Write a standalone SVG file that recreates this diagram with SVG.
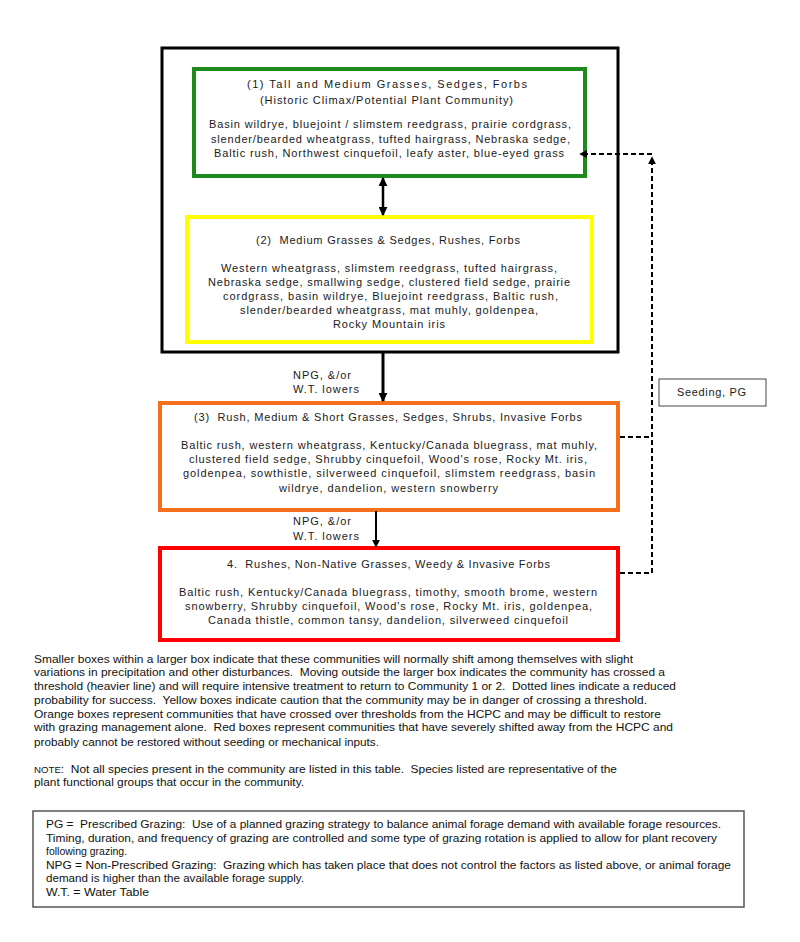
<svg xmlns="http://www.w3.org/2000/svg" width="800" height="942" viewBox="0 0 800 942">
<style>
.t{font-family:"Liberation Sans",Arial,sans-serif;font-size:11px;fill:#1a1a1a;white-space:pre}
.p{font-family:"Liberation Sans",Arial,sans-serif;font-size:10.5px;fill:#111;white-space:pre}
.box{fill:#fff;stroke-width:4}
.dash{fill:none;stroke:#000;stroke-width:2;stroke-dasharray:5 3}
.solid{fill:none;stroke:#000}
</style>
<defs>
<marker id="ah" viewBox="0 0 10 10" refX="9" refY="5" markerWidth="9" markerHeight="9" markerUnits="userSpaceOnUse" orient="auto-start-reverse">
<path d="M0,0 L10,5 L0,10 z" fill="#000"/>
</marker>
<marker id="ahs" viewBox="0 0 10 10" refX="9" refY="5" markerWidth="8" markerHeight="8" markerUnits="userSpaceOnUse" orient="auto">
<path d="M0,0 L10,5 L0,10 z" fill="#000"/>
</marker>
</defs>
<rect width="800" height="942" fill="#fff"/>

<g id="threshold-box">
<rect x="162" y="48" width="456" height="304" fill="none" stroke="#000" stroke-width="3"/>
</g>

<g id="node-1" xml:space="preserve">
<rect class="box" x="194" y="69" width="391" height="107" stroke="#1e8a1e"/>
<text class="t" x="247" y="88" textLength="280" lengthAdjust="spacing">(1) Tall and Medium Grasses, Sedges, Forbs</text>
<text class="t" x="260" y="104" textLength="253" lengthAdjust="spacing">(Historic Climax/Potential Plant Community)</text>
<text class="t" x="209" y="128" textLength="362" lengthAdjust="spacing">Basin wildrye, bluejoint / slimstem reedgrass, prairie cordgrass,</text>
<text class="t" x="211" y="143" textLength="359" lengthAdjust="spacing">slender/bearded wheatgrass, tufted hairgrass, Nebraska sedge,</text>
<text class="t" x="214" y="157" textLength="350" lengthAdjust="spacing">Baltic rush, Northwest cinquefoil, leafy aster, blue-eyed grass</text>
</g>

<g id="node-2" xml:space="preserve">
<rect class="box" x="187" y="217" width="405" height="125" stroke="#ffff00"/>
<text class="t" x="256" y="244" textLength="264" lengthAdjust="spacing">(2)  Medium Grasses &amp; Sedges, Rushes, Forbs</text>
<text class="t" x="221" y="271.5" textLength="336" lengthAdjust="spacing">Western wheatgrass, slimstem reedgrass, tufted hairgrass,</text>
<text class="t" x="208" y="285.5" textLength="362" lengthAdjust="spacing">Nebraska sedge, smallwing sedge, clustered field sedge, prairie</text>
<text class="t" x="223" y="299.5" textLength="335" lengthAdjust="spacing">cordgrass, basin wildrye, Bluejoint reedgrass, Baltic rush,</text>
<text class="t" x="240" y="313.5" textLength="298" lengthAdjust="spacing">slender/bearded wheatgrass, mat muhly, goldenpea,</text>
<text class="t" x="333" y="328" textLength="112" lengthAdjust="spacing">Rocky Mountain iris</text>
</g>

<g id="node-3" xml:space="preserve">
<rect class="box" x="160" y="403" width="458" height="107" stroke="#f5701c"/>
<text class="t" x="194" y="421" textLength="388" lengthAdjust="spacing">(3)  Rush, Medium &amp; Short Grasses, Sedges, Shrubs, Invasive Forbs</text>
<text class="t" x="181" y="449" textLength="416" lengthAdjust="spacing">Baltic rush, western wheatgrass, Kentucky/Canada bluegrass, mat muhly,</text>
<text class="t" x="189" y="463" textLength="398" lengthAdjust="spacing">clustered field sedge, Shrubby cinquefoil, Wood's rose, Rocky Mt. iris,</text>
<text class="t" x="183" y="477" textLength="412" lengthAdjust="spacing">goldenpea, sowthistle, silverweed cinquefoil, slimstem reedgrass, basin</text>
<text class="t" x="279" y="491.5" textLength="219" lengthAdjust="spacing">wildrye, dandelion, western snowberry</text>
</g>

<g id="node-4" xml:space="preserve">
<rect class="box" x="160" y="548" width="458" height="92" stroke="#ff0000"/>
<text class="t" x="227" y="568" textLength="323" lengthAdjust="spacing">4.  Rushes, Non-Native Grasses, Weedy &amp; Invasive Forbs</text>
<text class="t" x="179" y="595.5" textLength="418" lengthAdjust="spacing">Baltic rush, Kentucky/Canada bluegrass, timothy, smooth brome, western</text>
<text class="t" x="185" y="609.5" textLength="407" lengthAdjust="spacing">snowberry, Shrubby cinquefoil, Wood's rose, Rocky Mt. iris, goldenpea,</text>
<text class="t" x="208" y="624" textLength="360" lengthAdjust="spacing">Canada thistle, common tansy, dandelion, silverweed cinquefoil</text>
</g>

<g id="seeding-label">
<rect x="659" y="379" width="107" height="27" fill="#fff" stroke="#444" stroke-width="1"/>
<text class="t" x="677" y="396" textLength="69" lengthAdjust="spacing">Seeding, PG</text>
</g>

<g id="connectors">
<line class="solid" x1="383" y1="178" x2="383" y2="215" stroke-width="2.5" marker-start="url(#ah)" marker-end="url(#ah)"/>
<line class="solid" x1="383" y1="352" x2="383" y2="401" stroke-width="3" marker-end="url(#ah)"/>
<line class="solid" x1="376" y1="511" x2="376" y2="547" stroke-width="2" marker-end="url(#ahs)"/>
<path class="dash" d="M620,573 H652 V157" marker-end="url(#ahs)"/>
<path class="dash" d="M620,437 H652"/>
<path class="dash" d="M652,154 H580" marker-end="url(#ahs)"/>
<text class="t" x="293" y="379" textLength="58" lengthAdjust="spacing">NPG, &amp;/or</text>
<text class="t" x="293" y="393" textLength="66" lengthAdjust="spacing">W.T. lowers</text>
<text class="t" x="293" y="525" textLength="58" lengthAdjust="spacing">NPG, &amp;/or</text>
<text class="t" x="293" y="540" textLength="66" lengthAdjust="spacing">W.T. lowers</text>
</g>

<g id="notes" xml:space="preserve">
<text class="p" x="34" y="662.5" textLength="599" lengthAdjust="spacingAndGlyphs">Smaller boxes within a larger box indicate that these communities will normally shift among themselves with slight</text>
<text class="p" x="34" y="676" textLength="631" lengthAdjust="spacingAndGlyphs">variations in precipitation and other disturbances.  Moving outside the larger box indicates the community has crossed a</text>
<text class="p" x="34" y="690" textLength="642" lengthAdjust="spacingAndGlyphs">threshold (heavier line) and will require intensive treatment to return to Community 1 or 2.  Dotted lines indicate a reduced</text>
<text class="p" x="34" y="704" textLength="613" lengthAdjust="spacingAndGlyphs">probability for success.  Yellow boxes indicate caution that the community may be in danger of crossing a threshold.</text>
<text class="p" x="34" y="717.5" textLength="627" lengthAdjust="spacingAndGlyphs">Orange boxes represent communities that have crossed over thresholds from the HCPC and may be difficult to restore</text>
<text class="p" x="34" y="731" textLength="639" lengthAdjust="spacingAndGlyphs">with grazing management alone.  Red boxes represent communities that have severely shifted away from the HCPC and</text>
<text class="p" x="34" y="745.5" textLength="345" lengthAdjust="spacingAndGlyphs">probably cannot be restored without seeding or mechanical inputs.</text>
<text class="p" x="34" y="772.5" textLength="583" lengthAdjust="spacingAndGlyphs"><tspan font-size="8.5">NOTE</tspan>:  Not all species present in the community are listed in this table.  Species listed are representative of the</text>
<text class="p" x="34" y="786" textLength="270" lengthAdjust="spacingAndGlyphs">plant functional groups that occur in the community.</text>
</g>

<g id="legend" xml:space="preserve">
<rect x="33" y="811" width="711" height="96" fill="#fff" stroke="#555" stroke-width="1.5"/>
<text class="p" x="46" y="828" textLength="675" lengthAdjust="spacingAndGlyphs">PG =  Prescribed Grazing:  Use of a planned grazing strategy to balance animal forage demand with available forage resources.</text>
<text class="p" x="46" y="841.5" textLength="671" lengthAdjust="spacingAndGlyphs">Timing, duration, and frequency of grazing are controlled and some type of grazing rotation is applied to allow for plant recovery</text>
<text class="p" x="46" y="855">following grazing.</text>
<text class="p" x="46" y="868.5" textLength="685" lengthAdjust="spacingAndGlyphs">NPG = Non-Prescribed Grazing:  Grazing which has taken place that does not control the factors as listed above, or animal forage</text>
<text class="p" x="46" y="882" textLength="258" lengthAdjust="spacingAndGlyphs">demand is higher than the available forage supply.</text>
<text class="p" x="46" y="896" textLength="103" lengthAdjust="spacingAndGlyphs">W.T. = Water Table</text>
</g>
</svg>
